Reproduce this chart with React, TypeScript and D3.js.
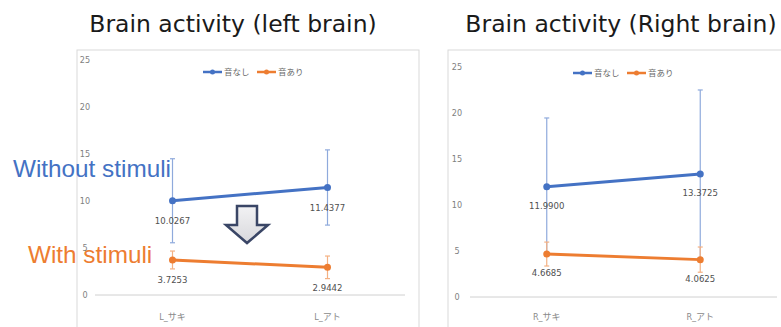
import React from 'react';
import * as d3 from 'd3';

const yTicks = [0, 5, 10, 15, 20, 25];
const seriesNames = ['音なし', '音あり'];
const seriesColors = ['#4472C4', '#ED7D31'];
const errColors = ['#8FAADC', '#F4B183'];

const leftCategories = ['L_サキ', 'L_アト'];
const leftNoSound = [10.0267, 11.4377];
const leftNoSoundErr = [4.47, 4.0];
const leftSound = [3.7253, 2.9442];
const leftSoundErr = [0.95, 1.2];

const rightCategories = ['R_サキ', 'R_アト'];
const rightNoSound = [11.99, 13.3725];
const rightNoSoundErr = [7.47, 9.13];
const rightSound = [4.6685, 4.0625];
const rightSoundErr = [1.3, 1.37];

const titles = ['Brain activity (left brain)', 'Brain activity (Right brain)'];

const fmt = d3.format('.4f');
const smallFont = '"Liberation Sans Narrow", "DejaVu Sans Condensed", "Noto Sans CJK JP", sans-serif';

type PanelProps = {
  frameX: number; frameW: number;
  x0: number; x1: number; y0: number; y25: number;
  tickX: number; legendX: number; legendY: number;
  categories: string[];
  series: number[][]; errs: number[][];
  labelOffset: number;
};

function Panel(p: PanelProps) {
  const x = d3.scaleBand<string>().domain(p.categories).range([p.x0, p.x1]);
  const y = d3.scaleLinear().domain([0, 25]).range([p.y0, p.y25]);
  const cx = (c: string) => (x(c) as number) + x.bandwidth() / 2;
  const line = d3.line<number>().x((_, i) => cx(p.categories[i])).y(v => y(v));
  return (
    <g>
      <rect x={p.frameX} y={50} width={p.frameW} height={300} fill="#fff" stroke="#d9d9d9" strokeWidth={1} />
      {yTicks.map(t => (
        <text key={t} x={p.tickX} y={y(t) + 3} textAnchor="middle" fontSize={9} fill="#7f7f7f" fontFamily={smallFont}>{t}</text>
      ))}
      <line x1={p.x0} x2={p.x1} y1={y(0)} y2={y(0)} stroke="#d0d0d0" strokeWidth={1} />
      {p.categories.map(c => (
        <text key={c} x={cx(c)} y={320} textAnchor="middle" fontSize={9} fill="#8a8a8a" fontFamily={smallFont}>{c}</text>
      ))}
      {p.series.map((vals, si) => (
        <g key={si}>
          {vals.map((v, i) => {
            const xc = cx(p.categories[i]);
            const e = p.errs[si][i];
            return (
              <g key={i} stroke={errColors[si]} strokeWidth={1.2}>
                <line x1={xc} x2={xc} y1={y(v + e)} y2={y(v - e)} />
                <line x1={xc - 2.5} x2={xc + 2.5} y1={y(v + e)} y2={y(v + e)} />
                <line x1={xc - 2.5} x2={xc + 2.5} y1={y(v - e)} y2={y(v - e)} />
              </g>
            );
          })}
        </g>
      ))}
      {p.series.map((vals, si) => (
        <g key={'s' + si}>
          <path d={line(vals) || ''} fill="none" stroke={seriesColors[si]} strokeWidth={3} />
          {vals.map((v, i) => (
            <circle key={i} cx={cx(p.categories[i])} cy={y(v)} r={3.5} fill={seriesColors[si]} />
          ))}
          {vals.map((v, i) => (
            <text key={'l' + i} x={cx(p.categories[i])} y={y(v) + p.labelOffset + 3.5} textAnchor="middle" fontSize={9.5} fill="#505050" fontFamily={smallFont}>{fmt(v)}</text>
          ))}
        </g>
      ))}
      {seriesNames.map((n, i) => {
        const lx = p.legendX + i * 54;
        return (
          <g key={n}>
            <line x1={lx} x2={lx + 19} y1={p.legendY} y2={p.legendY} stroke={seriesColors[i]} strokeWidth={2.5} />
            <circle cx={lx + 9.5} cy={p.legendY} r={2.5} fill={seriesColors[i]} />
            <text x={lx + 21} y={p.legendY + 3} fontSize={8.5} fill="#6a6a6a" fontFamily={smallFont}>{n}</text>
          </g>
        );
      })}
    </g>
  );
}

export default function App() {
  return (
    <svg width={781} height={327} style={{ position: 'absolute', left: 0, top: 0 }} xmlns="http://www.w3.org/2000/svg">
      <defs>
        <linearGradient id="arrowFill" x1="0" y1="0" x2="0" y2="1">
          <stop offset="0" stopColor="#f2f2f4" />
          <stop offset="1" stopColor="#d8d8dc" />
        </linearGradient>
      </defs>
      <rect width={781} height={327} fill="#fff" />
      <text x={233} y={32} textAnchor="middle" fontSize={23.5} fill="#1a1a1a" fontFamily='"DejaVu Sans", sans-serif'>{titles[0]}</text>
      <text x={621} y={32} textAnchor="middle" fontSize={23.5} fill="#1a1a1a" fontFamily='"DejaVu Sans", sans-serif'>{titles[1]}</text>
      <Panel frameX={77} frameW={342} x0={95} x1={405} y0={295} y25={60} tickX={85}
        legendX={203} legendY={72} categories={leftCategories}
        series={[leftNoSound, leftSound]} errs={[leftNoSoundErr, leftSoundErr]} labelOffset={20} />
      <Panel frameX={448} frameW={345} x0={470} x1={777} y0={297} y25={67} tickX={457}
        legendX={573} legendY={73} categories={rightCategories}
        series={[rightNoSound, rightSound]} errs={[rightNoSoundErr, rightSoundErr]} labelOffset={18.5} />
      <polygon points="237,206 257,206 257,225 268,225 247,243 226,225 237,225"
        fill="url(#arrowFill)" stroke="#3a4666" strokeWidth={2.5} strokeLinejoin="miter" />
      <text x={13} y={177} fontSize={24.3} fill="#4472C4" fontFamily='"Liberation Sans", Arial, sans-serif'>Without stimuli</text>
      <text x={28} y={263} fontSize={24.3} fill="#ED7D31" fontFamily='"Liberation Sans", Arial, sans-serif'>With stimuli</text>
    </svg>
  );
}
